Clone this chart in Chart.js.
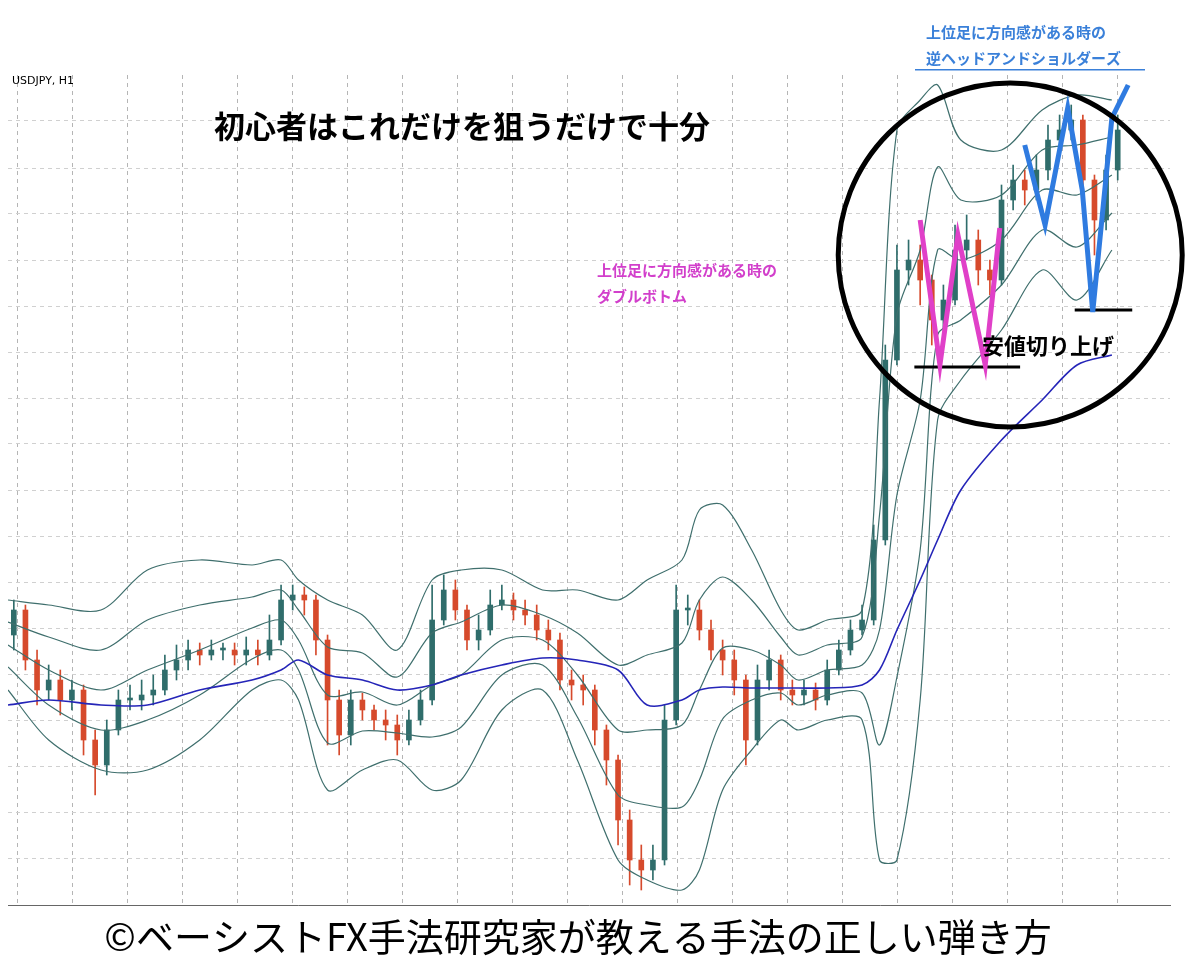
<!DOCTYPE html>
<html>
<head>
<meta charset="utf-8">
<script src="https://cdn.jsdelivr.net/npm/chart.js@4"></script>
<style>
  html, body { margin: 0; padding: 0; background: #fff; }
  #wrap { width: 1200px; height: 974px; }
</style>
</head>
<body>
<div id="wrap"><canvas id="price-chart" width="1200" height="974"></canvas></div>
<script>
// USDJPY H1 - price in points above the chart floor

// Candles (one per 2 x-units)
const closes = [295,245,215,225,205,215,165,140,175,205,205,210,215,235,245,255,250,255,255,250,
  255,250,265,305,310,305,265,205,170,205,195,185,180,165,185,205,285,315,295,265,
  275,300,305,295,290,275,265,225,220,215,175,145,85,45,35,45,185,295,295,275,
  255,245,225,165,225,245,215,210,215,205,235,255,275,285,365,545,635,645,625,585,
  605,655,665,635,625,705,725,715,735,765,775,785,725,685,735,775];
const firstOpen = 270;
const highs = [305,300,255,240,235,225,220,175,185,215,220,225,230,250,260,265,262,265,262,262,
  268,265,290,320,320,318,310,270,215,215,212,200,195,190,195,215,320,330,325,300,
  290,315,320,312,305,300,285,272,235,230,220,180,150,95,60,60,200,320,310,305,
  285,265,255,230,240,255,250,225,225,222,245,265,285,300,380,560,660,665,660,630,
  620,680,690,675,645,720,740,735,750,780,790,800,790,730,750,790];
const lows = [255,235,200,205,190,195,150,110,130,170,195,195,200,210,225,235,240,245,245,240,
  240,240,245,260,295,290,250,160,150,160,185,175,165,150,160,180,200,280,285,255,
  255,270,295,285,280,265,255,215,205,200,160,120,60,20,15,25,40,180,280,265,
  245,230,210,140,160,215,205,200,200,195,200,230,250,270,280,360,540,620,600,560,
  575,600,645,620,610,620,695,700,705,725,755,765,700,650,675,725];

// Bollinger bands and long MA, sampled along the x axis
const bandX  = [0,7,16,24,33,42,47,50,55,61,67,73,78,85,92,98,105,110,116,119,123,128,133,136,141,147,150,153,157,160,164,171,178,184,190];
const upper2 = [305,300,295,335,345,340,345,325,305,290,255,325,335,335,315,315,305,325,345,395,400,355,295,275,285,295,505,775,805,820,765,755,795,810,805];
const upper1 = [283,268,255,285,300,308,315,295,258,252,228,272,283,300,290,272,240,250,262,305,328,305,268,250,260,268,390,590,655,738,705,710,755,760,768];
const middle = [260,235,215,235,255,277,285,265,210,213,200,220,230,265,265,230,175,175,180,215,257,255,240,225,235,240,275,410,505,655,645,665,715,710,730];
const lower1 = [238,200,175,185,210,246,255,235,162,174,172,168,178,230,240,188,110,100,98,125,186,205,212,200,210,212,160,228,355,570,585,620,675,658,692];
const lower2 = [215,165,135,135,165,215,225,205,115,135,145,115,125,195,215,145,45,25,15,35,115,155,185,175,185,185,45,45,205,485,525,575,635,605,655];
const longMA = [200,205,200,200,215,225,235,245,230,225,215,220,230,240,247,245,235,200,205,215,218,217,217,217,217,220,235,275,325,365,415,465,505,540,550];

// Hand-drawn pattern marks
const pinkW = [[157,685],[160.4,540],[163.5,670],[168.2,540],[170.7,677]];
const blueHS = [[175,760],[178.5,680],[182.4,797],[184.9,715],[186.7,593],[190,787],[192.8,820]];
const lowLine1 = [[156,538],[174.2,538]];
const lowLine2 = [[183.6,595],[193.5,595]];
const circleCenter = [172.5, 650];

const xGrid = [6.4,15.8,25.3,34.8,44.2,53.7,63.2,72.6,82.1,91.6,101,110.5,120,129.4,138.9,148.3,157.8,167.3,176.7,186.2,195.6];
const yGrid = [47,93,139,185,231,277,323,369,415,461,507,553,599,645,691,737,785];

const UP = "#2f6d6b", DOWN = "#d64a2c", BAND = "#3f6f6d";

const bodies = [], wicks = [], colors = [];
closes.forEach((c, i) => {
  const o = i === 0 ? firstOpen : closes[i - 1];
  bodies.push({ x: 2 * i + 1, y: [o, c === o ? c + 2 : c] });
  wicks.push({ x: 2 * i + 1, y: [lows[i], highs[i]] });
  colors.push(c >= o ? UP : DOWN);
});

const pts = (xs, ys) => xs.map((x, i) => ({ x, y: ys[i] }));
const pairs = (arr) => arr.map(([x, y]) => ({ x, y }));

function bandSet(ys, color, width) {
  return { type: "line", data: pts(bandX, ys), borderColor: color, borderWidth: width,
    pointRadius: 0, tension: 0.3, order: 1 };
}
function markSet(arr, color, width) {
  return { type: "line", data: pairs(arr), borderColor: color, borderWidth: width,
    pointRadius: 0, tension: 0, order: 0 };
}

const overlayText = {
  id: "overlayText",
  afterDraw(chart) {
    const c = chart.ctx, xs = chart.scales.x, ys = chart.scales.y;
    c.save();
    // circle around the pattern
    const cx = xs.getPixelForValue(circleCenter[0]), cy = ys.getPixelForValue(circleCenter[1]);
    c.beginPath();
    c.arc(cx, cy, 172, 0, Math.PI * 2);
    c.lineWidth = 5; c.strokeStyle = "#000"; c.stroke();

    c.fillStyle = "#000";
    c.font = "11px 'DejaVu Sans'";
    c.fillText("USDJPY, H1", 12, 84);
    c.font = "bold 31px 'Noto Sans CJK JP'";
    c.fillText("初心者はこれだけを狙うだけで十分", 214, 138);
    c.font = "bold 22px 'Noto Sans CJK JP'";
    c.fillText("安値切り上げ", 982, 354);

    c.fillStyle = "#d23fcb";
    c.font = "bold 15px 'Noto Sans CJK JP'";
    c.fillText("上位足に方向感がある時の", 597, 276);
    c.fillText("ダブルボトム", 597, 302);

    c.fillStyle = "#3a80d9";
    c.fillText("上位足に方向感がある時の", 926, 38);
    c.fillText("逆ヘッドアンドショルダーズ", 926, 64);
    c.fillRect(915, 69, 230, 1.5);

    c.fillStyle = "#000";
    c.font = "38px 'Noto Sans CJK JP'";
    c.textAlign = "center";
    c.fillText("©ベーシストFX手法研究家が教える手法の正しい弾き方", 578, 951);
    c.restore();
  }
};

new Chart(document.getElementById("price-chart").getContext("2d"), {
  type: "bar",
  data: {
    datasets: [
      markSet(pinkW, "#e040c8", 5),
      markSet(blueHS, "#2f7be0", 5),
      markSet(lowLine1, "#000", 3),
      markSet(lowLine2, "#000", 3),
      { type: "line", data: pts(bandX, longMA), borderColor: "#2525b8", borderWidth: 1.6,
        pointRadius: 0, tension: 0.3, order: 1 },
      bandSet(upper2, BAND, 1.2),
      bandSet(upper1, BAND, 1.2),
      bandSet(middle, BAND, 1.2),
      bandSet(lower1, BAND, 1.2),
      bandSet(lower2, BAND, 1.2),
      { data: wicks, backgroundColor: colors, barThickness: 1, grouped: false, order: 3 },
      { data: bodies, backgroundColor: colors, barThickness: 5, grouped: false, order: 2 },
    ],
  },
  plugins: [overlayText],
  options: {
    responsive: false,
    animation: false,
    layout: { padding: { top: 75, bottom: 69, left: 8, right: 30 } },
    plugins: { legend: { display: false }, tooltip: { enabled: false } },
    scales: {
      x: {
        type: "linear", min: 0, max: 200, offset: false,
        afterBuildTicks: (s) => { s.ticks = xGrid.map((v) => ({ value: v })); },
        ticks: { display: false },
        grid: { color: "#b5b5b5", drawTicks: false },
        border: { display: true, color: "#666", dash: [4, 4] },
      },
      y: {
        min: 0, max: 830,
        afterBuildTicks: (s) => { s.ticks = yGrid.map((v) => ({ value: v })); },
        ticks: { display: false },
        grid: { color: "#d0d0d0", drawTicks: false },
        border: { display: false, dash: [4, 4] },
      },
    },
  },
});
</script>
</body>
</html>
